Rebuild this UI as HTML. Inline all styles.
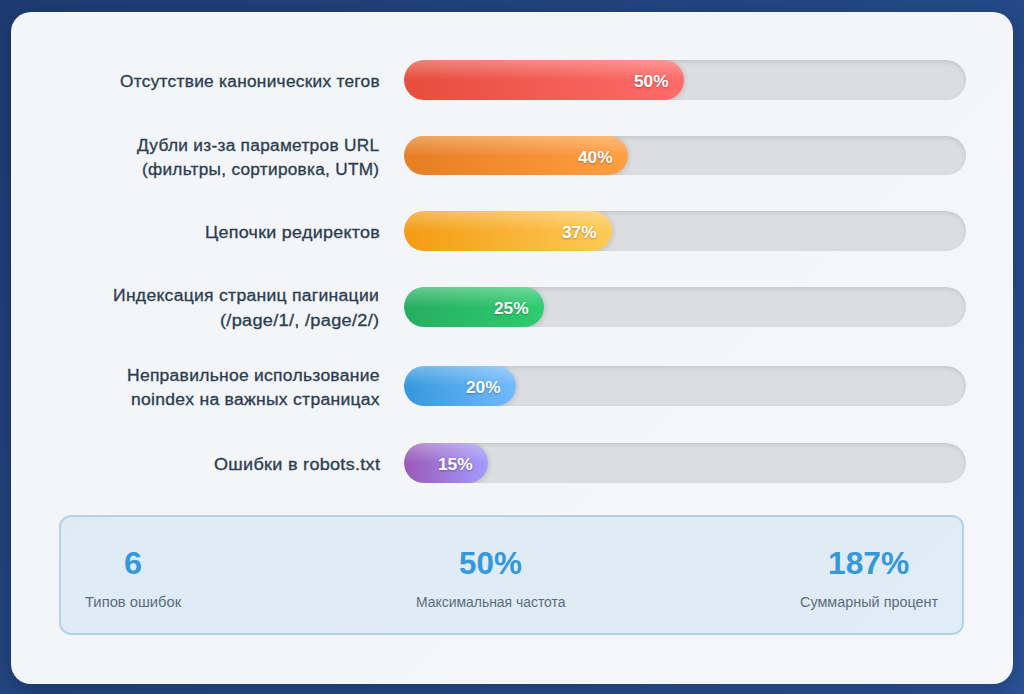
<!DOCTYPE html>
<html lang="ru">
<head>
<meta charset="utf-8">
<title>Ошибки индексации</title>
<style>
*{box-sizing:border-box;margin:0;padding:0}
html,body{width:1024px;height:694px;overflow:hidden}
body{font-family:"Liberation Sans",sans-serif;background:linear-gradient(135deg,#1e3c72 0%,#2a5298 100%);position:relative}
.card{position:absolute;left:11px;top:11.5px;width:1002px;height:672px;border-radius:20px;background:rgba(255,255,255,0.95);box-shadow:0 6px 24px rgba(0,0,0,0.22)}
.t{position:absolute;white-space:nowrap;line-height:normal;transform-origin:0 50%}
.lb{color:#2c3e50;font-size:15.6px;font-weight:400;-webkit-text-stroke:0.3px #2c3e50}
.cp{color:#5a6c7d;font-size:14.0px}
.nm{color:#3498db;font-size:31.0px;font-weight:700}
.vl{color:#fff;font-size:16.0px;font-weight:700;text-shadow:0 1px 2px rgba(0,0,0,0.3)}
.track{position:absolute;left:404px;width:561.5px;height:39.5px;border-radius:20px;background:#dcdde1;box-shadow:inset 0 2px 4px rgba(0,0,0,0.10);overflow:hidden}
.fill{position:absolute;left:0;top:0;height:100%;border-radius:20px;overflow:hidden;box-shadow:1px 1px 5px rgba(0,0,0,0.15)}
.fill::after{content:"";position:absolute;left:0;top:0;right:0;height:50%;background:linear-gradient(to bottom,rgba(255,255,255,0.3),rgba(255,255,255,0))}
.summary{position:absolute;left:58.75px;top:515px;width:905px;height:120px;border-radius:12px;border:2px solid #b4d2e6;background:rgba(52,152,219,0.1)}
</style>
</head>
<body>
<div class="card"></div>
<div class="track" style="top:60.0px"><div class="fill" style="width:280.0px;background:linear-gradient(90deg,#e74c3c,#ff6b6b)"></div></div>
<div class="t vl" style="left:634.20px;top:72.82px;transform:scaleX(1.0802)">50%</div>
<div class="track" style="top:135.8px"><div class="fill" style="width:224.2px;background:linear-gradient(90deg,#e67e22,#ff9f43)"></div></div>
<div class="t vl" style="left:578.40px;top:148.62px;transform:scaleX(1.0802)">40%</div>
<div class="track" style="top:211.2px"><div class="fill" style="width:207.6px;background:linear-gradient(90deg,#f39c12,#feca57)"></div></div>
<div class="t vl" style="left:561.80px;top:224.02px;transform:scaleX(1.0802)">37%</div>
<div class="track" style="top:287.0px"><div class="fill" style="width:140.2px;background:linear-gradient(90deg,#27ae60,#2ecc71)"></div></div>
<div class="t vl" style="left:494.40px;top:299.82px;transform:scaleX(1.0802)">25%</div>
<div class="track" style="top:366.0px"><div class="fill" style="width:111.6px;background:linear-gradient(90deg,#3498db,#74b9ff)"></div></div>
<div class="t vl" style="left:465.80px;top:378.82px;transform:scaleX(1.0802)">20%</div>
<div class="track" style="top:443.0px"><div class="fill" style="width:84.2px;background:linear-gradient(90deg,#9b59b6,#a29bfe)"></div></div>
<div class="t vl" style="left:438.40px;top:455.82px;transform:scaleX(1.0802)">15%</div>
<div class="summary"></div>
<div class="t lb" style="left:119.75px;top:73.13px;letter-spacing:0.25px;transform:scaleX(1.1084)">Отсутствие канонических тегов</div>
<div class="t lb" style="left:137.30px;top:136.88px;letter-spacing:0.25px;transform:scaleX(1.1088)">Дубли из-за параметров URL</div>
<div class="t lb" style="left:142.30px;top:160.98px;letter-spacing:0.25px;transform:scaleX(1.1048)">(фильтры, сортировка, UTM)</div>
<div class="t lb" style="left:204.60px;top:224.18px;letter-spacing:0.25px;transform:scaleX(1.1476)">Цепочки редиректов</div>
<div class="t lb" style="left:113.20px;top:287.38px;letter-spacing:0.25px;transform:scaleX(1.1251)">Индексация страниц пагинации</div>
<div class="t lb" style="left:219.50px;top:311.58px;letter-spacing:0.25px;transform:scaleX(1.1653)">(/page/1/, /page/2/)</div>
<div class="t lb" style="left:127.00px;top:367.48px;letter-spacing:0.25px;transform:scaleX(1.1197)">Неправильное использование</div>
<div class="t lb" style="left:130.80px;top:391.28px;letter-spacing:0.25px;transform:scaleX(1.1236)">noindex на важных страницах</div>
<div class="t lb" style="left:213.70px;top:455.88px;letter-spacing:0.25px;transform:scaleX(1.1569)">Ошибки в robots.txt</div>
<div class="t cp" style="left:84.75px;top:593.63px;letter-spacing:0.0px;transform:scaleX(1.0552)">Типов ошибок</div>
<div class="t cp" style="left:415.90px;top:593.63px;letter-spacing:0.0px;transform:scaleX(0.9938)">Максимальная частота</div>
<div class="t cp" style="left:800.25px;top:593.63px;letter-spacing:0.0px;transform:scaleX(1.0292)">Суммарный процент</div>
<div class="t nm" style="left:123.60px;top:546.05px;letter-spacing:0.0px;transform:scaleX(1.0435)">6</div>
<div class="t nm" style="left:459.00px;top:546.05px;letter-spacing:0.0px;transform:scaleX(1.0121)">50%</div>
<div class="t nm" style="left:828.40px;top:546.05px;letter-spacing:0.0px;transform:scaleX(1.0253)">187%</div>
</body>
</html>
